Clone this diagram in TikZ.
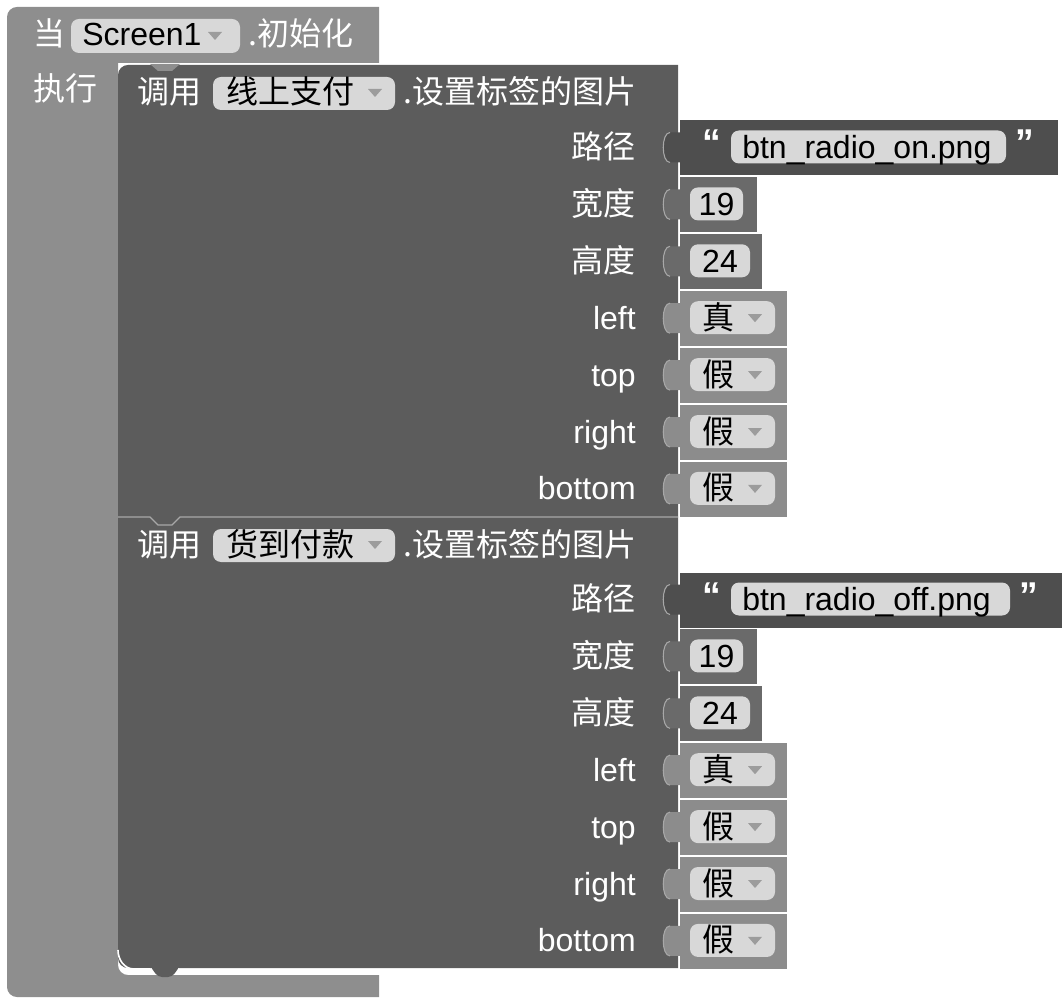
\documentclass[tikz,border=0pt]{standalone}
\usepackage{fontspec}
\setmainfont{Liberation Sans}
\newfontfamily\cjk{Noto Sans CJK SC}

\definecolor{outergray}{HTML}{8E8E8E}
\definecolor{innergray}{HTML}{5C5C5C}
\definecolor{strgray}{HTML}{4E4E4E}
\definecolor{numgray}{HTML}{6A6A6A}
\definecolor{boolgray}{HTML}{8C8C8C}
\definecolor{fieldgray}{HTML}{D8D8D8}
\definecolor{arrowgray}{HTML}{9C9C9C}
\definecolor{edgegray}{HTML}{A8A8A8}

\tikzset{
  wlabel/.style={text=white, font=\fontsize{24}{24}\selectfont, inner sep=0pt},
  blabel/.style={text=black, font=\fontsize{24}{24}\selectfont, inner sep=0pt},
  qmark/.style={text=white, font=\fontsize{28}{28}\selectfont\bfseries, inner sep=0pt},
  fieldbox/.style={fill=fieldgray, rounded corners=6pt},
  dropmark/.style={fill=arrowgray},
}

% value block with its socket tab: colour, top y, right x
\newcommand\valtab[3]{%
  \fill[#1] (680,#2) rectangle (#3,#2+55);
  \fill[#1] (681,#2+12) -- (670,#2+12) .. controls (661,#2+12) and (661,#2+42) .. (670,#2+42) -- (681,#2+42) -- cycle;
  \draw[edgegray, line width=0.8pt] (670,#2+12) .. controls (661,#2+12) and (661,#2+42) .. (670,#2+42);
}

% one "set label image" call: top y, component, file, field end, block end, suffix
\newcommand\setimgcall[6]{%
  \node[wlabel, anchor=base west] (call#6) at (137,#1+39) {\cjk 调用};
  \fill[fieldbox] (213,#1+12) rectangle (395,#1+45);
  \node[blabel, anchor=base west] (comp#6) at (226,#1+39) {\cjk #2};
  \fill[dropmark] (368,#1+24) -- (382,#1+24) -- (375,#1+32) -- cycle;
  \node[wlabel, anchor=base west] (meth#6) at (403,#1+39) {\cjk .设置标签的图片};
  \foreach \lab [count=\i, evaluate=\i as \c using #1+82.5+56.9*(\i-1)] in
      {{\cjk 路径},{\cjk 宽度},{\cjk 高度},left,top,right,bottom}
    \node[wlabel, anchor=base east] (row#6\i) at (636,\c+11) {\lab};
  % image file
  \valtab{strgray}{#1+55.5}{#5}
  \node[qmark, anchor=base] (lq#6) at (712,#1+91) {“};
  \fill[fieldbox] (731,#1+65.5) rectangle (#4,#1+98.5);
  \node[blabel, anchor=base west] (file#6) at (742,#1+93.5) {#3};
  \node[qmark, anchor=base] (rq#6) at (#4+19,#1+91) {”};
  % width and height
  \valtab{numgray}{#1+112.4}{757}
  \fill[fieldbox] (690,#1+122.4) rectangle (743,#1+155.4);
  \node[blabel, anchor=base] (wid#6) at (716.5,#1+150.4) {19};
  \valtab{numgray}{#1+169.3}{762}
  \fill[fieldbox] (690,#1+179.3) rectangle (750,#1+212.3);
  \node[blabel, anchor=base] (hgt#6) at (720,#1+207.3) {24};
  % flags
  \foreach \val [count=\j, evaluate=\j as \c using #1+253.2+56.9*(\j-1)] in {真,假,假,假} {
    \valtab{boolgray}{\c-27}{787}
    \fill[fieldbox] (690,\c-17) rectangle (775,\c+16);
    \node[blabel, anchor=base west] (flag#6\j) at (702,\c+11) {\cjk \val};
    \fill[dropmark] (748,\c-4) -- (762,\c-4) -- (755,\c+4) -- cycle;
  }
}

\begin{document}
\begin{tikzpicture}[x=0.75pt, y=-0.75pt]
\useasboundingbox (0,0) rectangle (1063,998);
% event block
\fill[outergray] (379,7) -- (17,7) to[out=180,in=90] (7,17) -- (7,987) to[out=-90,in=180] (17,997) -- (379,997) -- (379,975) -- (128,975) to[out=180,in=-90] (118,965) -- (118,63) -- (379,63) -- cycle;
\node[wlabel, anchor=base west] (when) at (33,46) {\cjk 当};
\fill[fieldbox] (71,19) rectangle (240,53);
\node[blabel, anchor=base west] (screen) at (82,46) {Screen1};
\fill[dropmark] (208,32) -- (222,32) -- (215,40) -- cycle;
\node[wlabel, anchor=base west] (init) at (248,46) {\cjk .初始化};
\node[wlabel, anchor=base west] (do) at (33,101) {\cjk 执行};

% the two call blocks
\fill[innergray] (678,65) -- (128,65) to[out=180,in=90] (118,75) -- (118,958) to[out=-90,in=180] (128,968) -- (678,968) -- cycle;
\fill[innergray, rounded corners=3pt] (150,966) -- (158,977) -- (172,977) -- (180,966) -- cycle;
\fill[outergray] (150,64) -- (158,71) -- (172,71) -- (180,64) -- cycle;
\draw[edgegray, line width=1pt] (118,517) -- (150,517) -- (158,525) -- (172,525) -- (180,517) -- (678,517);
\draw[white, line width=1.2pt] (118,950) to[out=-90,in=180] (134,969) -- (150,969);

\setimgcall{65}{线上支付}{btn\_radio\_on.png}{1006}{1058}{a}
\setimgcall{517}{货到付款}{btn\_radio\_off.png}{1010}{1062}{b}
\end{tikzpicture}
\end{document}
